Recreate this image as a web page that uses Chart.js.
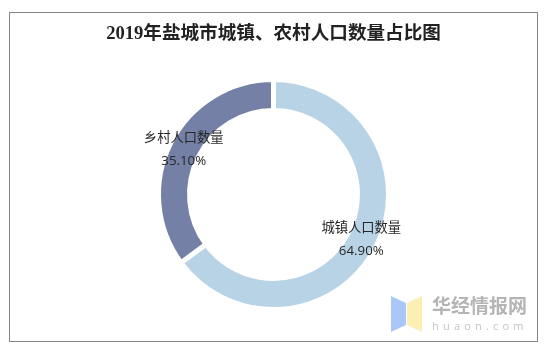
<!DOCTYPE html>
<html><head><meta charset="utf-8">
<style>html,body{margin:0;padding:0;background:#fff}#w{position:relative;width:548px;height:353px}canvas{display:block}</style>
<script src="https://cdn.jsdelivr.net/npm/chart.js@4"></script></head>
<body><div id="w"><canvas id="c" width="548" height="353"></canvas></div>
<script>
const titleText = '2019年盐城市城镇、农村人口数量占比图';
const categories = ['城镇人口数量', '乡村人口数量'];
const shares = [64.90, 35.10];
const shareLabels = ['64.90%', '35.10%'];
const colors = ['#b8d3e5', '#7480a5'];
const mark = 'huaon.com', markCn = '华经情报网';

const decor = {
  id: 'decor',
  beforeDraw(ch) {
    const c = ch.ctx; c.save();
    c.strokeStyle = '#858585'; c.lineWidth = 1; c.strokeRect(9.5, 12.5, 528, 329);
    c.textAlign = 'center'; c.textBaseline = 'middle'; c.fillStyle = '#222';
    c.font = 'bold 18.6px "Liberation Serif","Noto Sans CJK SC"';
    c.fillText(titleText, 273.5, 34.5);
    c.restore();
  },
  afterDraw(ch) {
    const c = ch.ctx; c.save();
    const arcs = ch.getDatasetMeta(0).data;
    c.textAlign = 'center'; c.textBaseline = 'middle'; c.fillStyle = '#262626';
    c.font = '13.3px "Open Sans","Noto Sans CJK SC"';
    arcs.forEach((a, i) => {
      const p = a.tooltipPosition();
      c.fillText(categories[i], p.x - 1, p.y - 11);
      c.fillText(shareLabels[i], p.x - 1, p.y + 12);
    });
    c.fillStyle = '#a9c8f7';
    c.beginPath(); c.moveTo(391, 296); c.lineTo(406, 303); c.lineTo(406, 325); c.lineTo(391, 332); c.closePath(); c.fill();
    c.fillStyle = '#fcefb4';
    c.beginPath(); c.moveTo(422, 296); c.lineTo(407, 303); c.lineTo(407, 325); c.lineTo(422, 332); c.closePath(); c.fill();
    c.textAlign = 'left'; c.fillStyle = '#b4b4b4';
    c.font = 'bold 19px "Noto Sans CJK SC"';
    c.fillText(markCn, 432, 306);
    c.font = '11px "Open Sans"'; c.letterSpacing = '4.2px'; c.fillStyle = '#c4c4c4';
    c.fillText(mark, 432, 327);
    c.restore();
  }
};

new Chart(document.getElementById('c'), {
  type: 'doughnut',
  data: { labels: categories, datasets: [{ data: shares, backgroundColor: colors, borderColor: '#fff', borderWidth: 5, borderAlign: 'center' }] },
  options: {
    responsive: false, animation: false, cutout: '73%',
    layout: { padding: { left: 154, right: 155, top: 77, bottom: 41 } },
    plugins: { legend: { display: false }, tooltip: { enabled: false }, title: { display: false } }
  },
  plugins: [decor]
});
</script></body></html>
